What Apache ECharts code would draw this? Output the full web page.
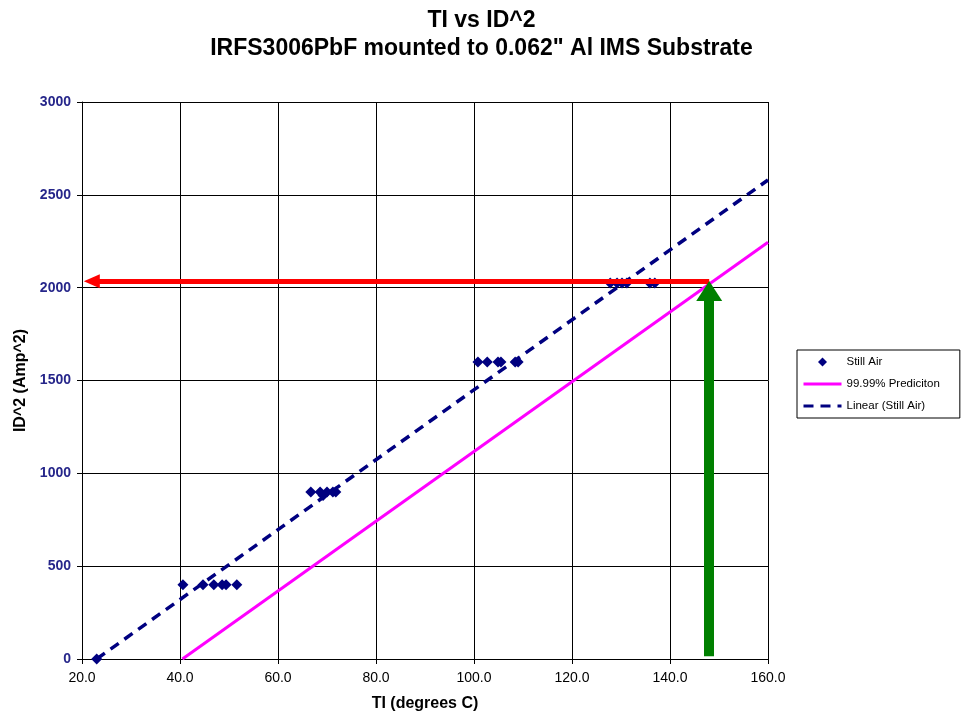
<!DOCTYPE html>
<html>
<head>
<meta charset="utf-8">
<script src="https://cdn.jsdelivr.net/npm/echarts@6/dist/echarts.min.js"></script>
<style>
html,body{margin:0;padding:0;background:#fff;}
#chart{width:963px;height:717px;}
</style>
</head>
<body>
<div id="chart"></div>
<script>
// ---- data ----
var titleText = 'TI vs ID^2\nIRFS3006PbF mounted to 0.062" Al IMS Substrate';
var xTicks = [20, 40, 60, 80, 100, 120, 140, 160];
var yTicks = [0, 500, 1000, 1500, 2000, 2500, 3000];

var stillAirTemp = [23.0, 40.6, 44.7, 46.9, 48.6, 49.4, 51.6,
                    66.7, 68.6, 69.2, 70.0, 71.2, 71.8,
                    100.8, 102.7, 104.9, 105.5, 108.4, 109.0,
                    127.8, 129.2, 130.2, 131.2, 135.9, 136.9];
var stillAirId2  = [0, 400, 400, 400, 400, 400, 400,
                    900, 900, 880, 900, 900, 900,
                    1600, 1600, 1600, 1600, 1600, 1600,
                    2025, 2025, 2025, 2025, 2025, 2025];

var trendTemp = [23, 160];
var trendId2  = [0, 2580];

var predictionTemp = [40.5, 160];
var predictionId2  = [0, 2245];

var redArrowTemp = [148, 22];
var redArrowId2  = [2035, 2035];
var greenArrowTemp = [148, 148];
var greenArrowId2  = [15, 1982];

function pairs(xs, ys) { return xs.map(function (x, i) { return [x, ys[i]]; }); }

var FONT = 'Arial, "Liberation Sans", sans-serif';
var HIDDEN_SYMBOL = {color: 'rgba(0,0,0,0)', borderWidth: 0, opacity: 0};
var chart = echarts.init(document.getElementById('chart'), null, {renderer: 'canvas'});
chart.setOption({
  animation: false,
  backgroundColor: '#ffffff',
  textStyle: {fontFamily: FONT},
  title: {
    text: titleText,
    left: 'center',
    top: 2,
    textStyle: {fontFamily: FONT, fontSize: 23, fontWeight: 'bold', color: '#000', lineHeight: 28}
  },
  grid: {left: 82, top: 102, right: 195, bottom: 58, containLabel: false},
  legend: {
    orient: 'vertical',
    left: 797,
    top: 350,
    data: [
      {name: 'Still Air', icon: 'path://M0,-1L1,0L0,1L-1,0Z'},
      {name: '99.99% Prediciton', itemStyle: HIDDEN_SYMBOL, lineStyle: {width: 3}},
      {name: 'Linear (Still Air)', itemStyle: HIDDEN_SYMBOL, lineStyle: {width: 3}}
    ],
    symbolKeepAspect: true,
    itemWidth: 38,
    itemHeight: 9,
    itemGap: 10,
    padding: [6, 20, 6, 5],
    borderColor: '#000',
    borderWidth: 1,
    textStyle: {fontFamily: FONT, fontSize: 11.5, color: '#000'}
  },
  xAxis: {
    type: 'value',
    min: xTicks[0],
    max: xTicks[xTicks.length - 1],
    interval: xTicks[1] - xTicks[0],
    name: 'TI (degrees C)',
    nameLocation: 'middle',
    nameGap: 37,
    nameTextStyle: {fontFamily: FONT, fontSize: 16, fontWeight: 'bold', color: '#000'},
    axisLine: {show: true, onZero: false, lineStyle: {color: '#000', width: 1}},
    axisTick: {show: true, inside: false, length: 5, lineStyle: {color: '#000'}},
    axisLabel: {fontFamily: FONT, fontSize: 14, color: '#000', margin: 12,
      formatter: function (v) { return v.toFixed(1); }},
    splitLine: {show: true, lineStyle: {color: '#000', width: 1}}
  },
  yAxis: {
    type: 'value',
    min: yTicks[0],
    max: yTicks[yTicks.length - 1],
    interval: yTicks[1] - yTicks[0],
    name: 'ID^2 (Amp^2)',
    nameLocation: 'middle',
    nameGap: 43,
    nameTextStyle: {fontFamily: FONT, fontSize: 16, fontWeight: 'bold', color: '#000'},
    axisLine: {show: true, lineStyle: {color: '#000', width: 1}},
    axisTick: {show: true, inside: false, length: 5, lineStyle: {color: '#000'}},
    axisLabel: {fontFamily: FONT, fontSize: 14, fontWeight: 'bold', color: '#26268a', margin: 11,
      formatter: function (v) { return String(v); }},
    splitLine: {show: true, lineStyle: {color: '#000', width: 1}}
  },
  series: [
    {
      name: 'Linear (Still Air)',
      type: 'line',
      data: pairs(trendTemp, trendId2),
      symbol: 'none',
      lineStyle: {color: '#000080', width: 3.5, type: [10, 7]},
      itemStyle: {color: '#000080'},
      z: 3
    },
    {
      name: '99.99% Prediciton',
      type: 'line',
      data: pairs(predictionTemp, predictionId2),
      symbol: 'none',
      lineStyle: {color: '#ff00ff', width: 3},
      itemStyle: {color: '#ff00ff'},
      z: 3
    },
    {
      name: 'Still Air',
      type: 'scatter',
      data: pairs(stillAirTemp, stillAirId2),
      symbol: 'diamond',
      symbolSize: 11,
      itemStyle: {color: '#000080', opacity: 1},
      z: 4
    },
    {
      name: 'arrows',
      type: 'line',
      data: [],
      z: 6,
      markLine: {
        silent: true,
        animation: false,
        precision: 4,
        label: {show: false},
        emphasis: {disabled: true},
        data: [
          [{coord: [redArrowTemp[0], redArrowId2[0]], symbol: 'none'},
           {coord: [redArrowTemp[1], redArrowId2[1]], symbol: 'triangle', symbolSize: [14, 16],
            lineStyle: {color: '#ff0000', width: 5, type: 'solid'}, itemStyle: {color: '#ff0000'}}],
          [{coord: [greenArrowTemp[0], greenArrowId2[0]], symbol: 'none'},
           {coord: [greenArrowTemp[1], greenArrowId2[1]], symbol: 'triangle', symbolSize: [26, 20],
            lineStyle: {color: '#008000', width: 10, type: 'solid'}, itemStyle: {color: '#008000'}}]
        ]
      }
    }
  ]
});
</script>
</body>
</html>
